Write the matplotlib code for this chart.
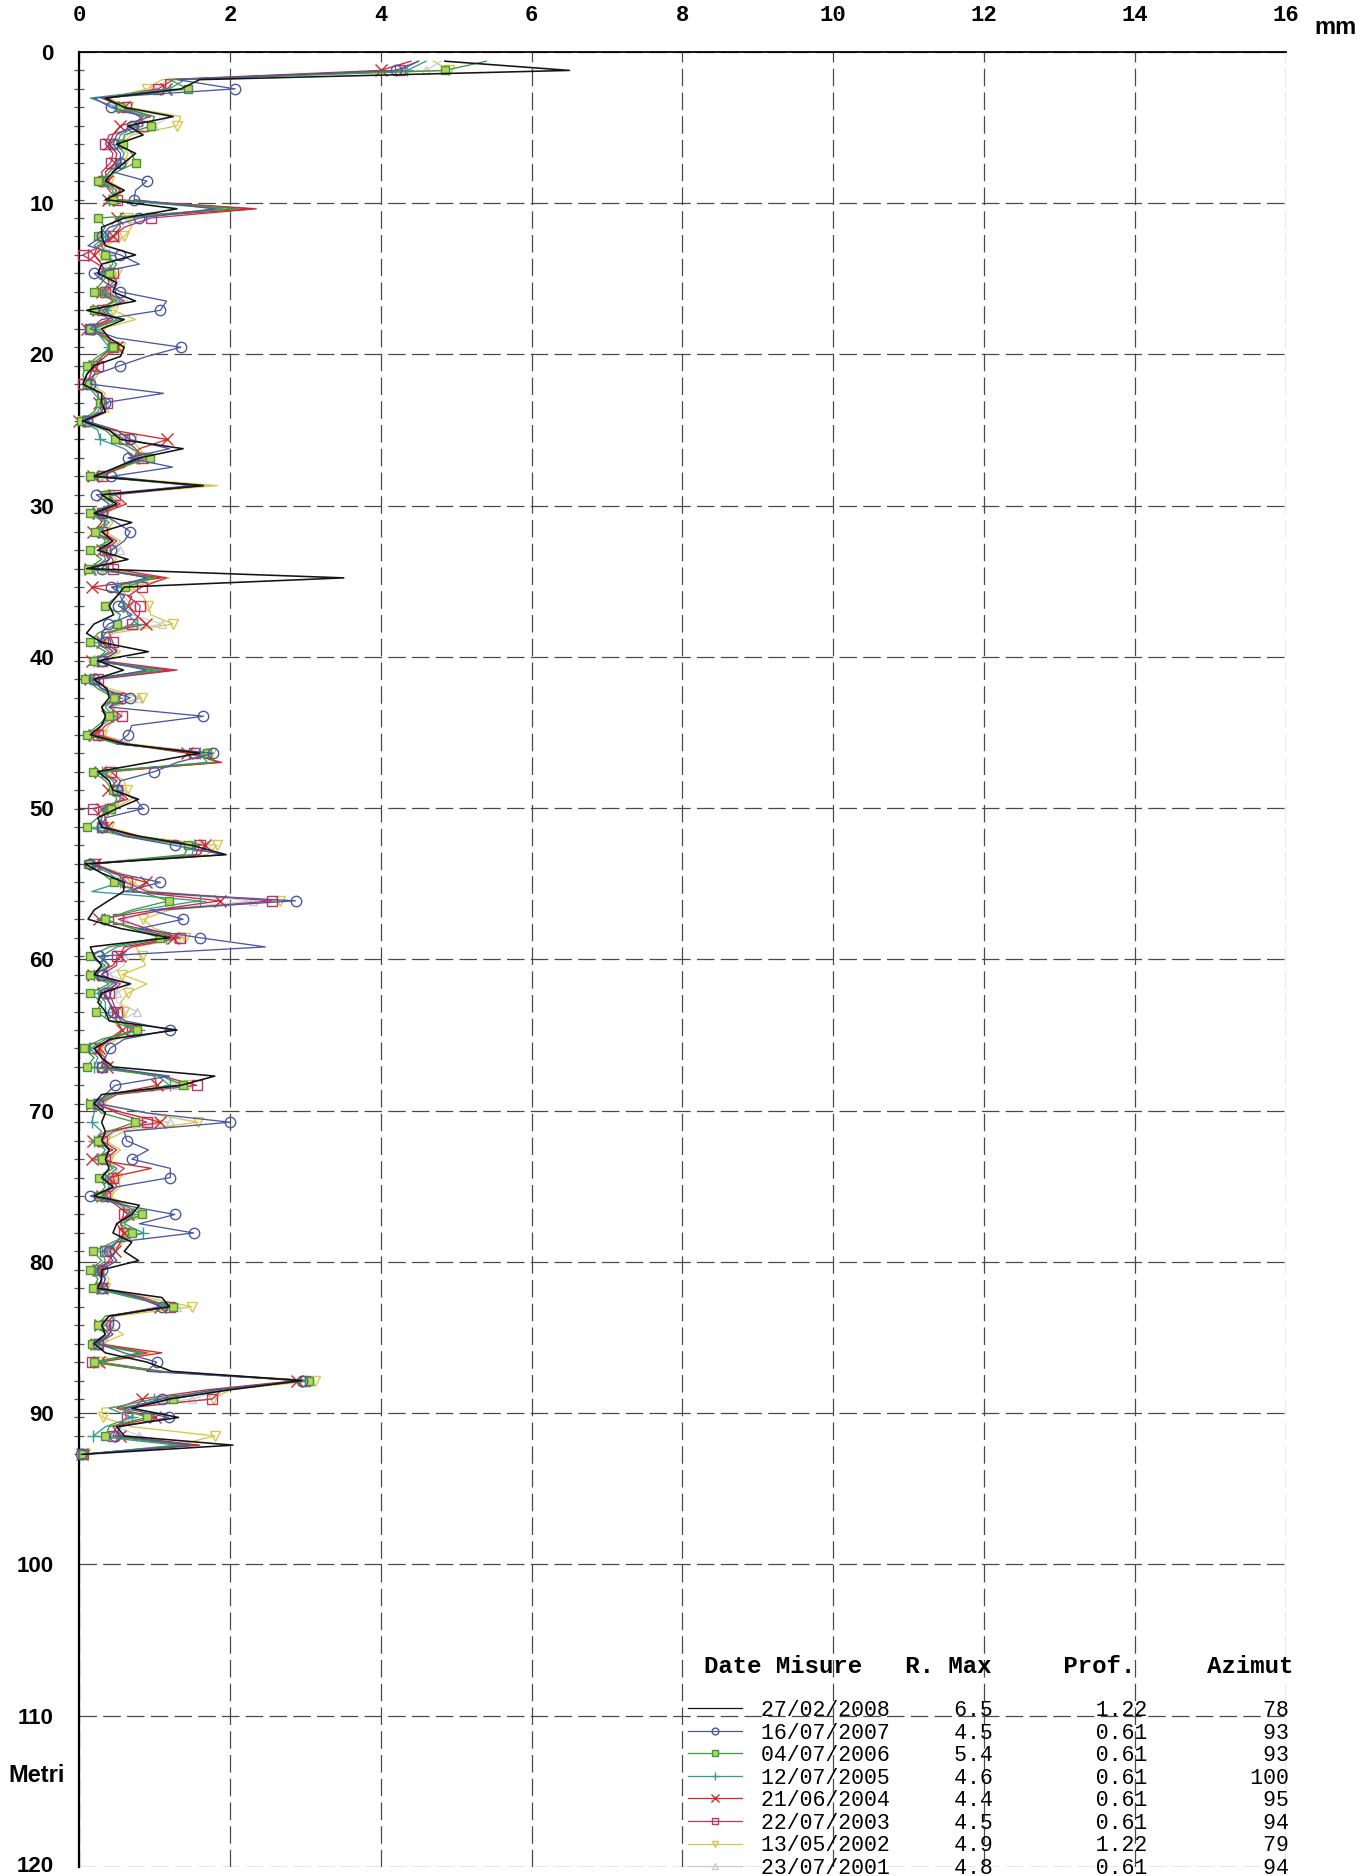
import numpy as np
import matplotlib
matplotlib.use("Agg")
import matplotlib.pyplot as plt
from matplotlib.lines import Line2D
from matplotlib.font_manager import FontProperties

# tabella misure
date_misure = ["27/02/2008", "16/07/2007", "04/07/2006", "12/07/2005",
               "21/06/2004", "22/07/2003", "13/05/2002", "23/07/2001"]
r_max = ["6.5", "4.5", "5.4", "4.6", "4.4", "4.5", "4.9", "4.8"]
prof = ["1.22", "0.61", "0.61", "0.61", "0.61", "0.61", "1.22", "0.61"]
azimut = ["78", "93", "93", "100", "95", "94", "79", "94"]

x_ticks = [0, 2, 4, 6, 8, 10, 12, 14, 16]
y_ticks = [0, 10, 20, 30, 40, 50, 60, 70, 80, 90, 100, 110, 120]

# letture della sonda ogni 0.61 m (marcatori ogni 1.22 m)
profondita = np.round(np.arange(1, 153) * 0.61, 2)

s2008 = [4.85, 6.5, 1.6, 1.35, 0.35, 0.6, 1.25, 0.65, 0.85, 0.5,
         0.75, 0.6, 0.45, 0.35, 0.6, 0.35, 1.3, 0.6, 0.3, 0.3,
         0.35, 0.75, 0.3, 0.25, 0.5, 0.45, 0.75, 0.1, 0.6, 0.3,
         0.4, 0.6, 0.55, 0.2, 0.1, 0.05, 0.3, 0.3, 0.35, 0.05,
         0.4, 0.55, 1.38, 0.8, 0.5, 0.2, 1.65, 0.3, 0.5, 0.2,
         0.7, 0.3, 0.45, 0.25, 0.65, 0.1, 3.51, 0.6, 0.5, 0.4,
         0.46, 0.2, 0.1, 0.3, 0.92, 0.25, 0.59, 0.2, 0.37, 0.4,
         0.3, 0.35, 0.3, 0.15, 0.6, 1.6, 0.93, 0.25, 0.4, 0.45,
         0.79, 0.5, 0.25, 0.3, 0.8, 1.5, 1.95, 0.08, 0.3, 0.6,
         0.59, 0.39, 0.2, 0.12, 0.55, 1.2, 0.15, 0.2, 0.3, 0.2,
         0.68, 0.3, 0.25, 0.35, 0.4, 1.3, 0.41, 0.2, 0.3, 0.45,
         1.8, 1.35, 0.3, 0.2, 0.35, 0.3, 0.35, 0.3, 0.4, 0.35,
         0.4, 0.3, 0.45, 0.2, 0.8, 0.7, 0.5, 0.45, 0.7, 0.6,
         0.79, 0.3, 0.3, 0.25, 1.1, 1.2, 0.4, 0.3, 0.35, 0.2,
         0.35, 0.9, 1.23, 2.95, 2.0, 1.2, 0.7, 1.32, 0.5, 0.6,
         2.04, 0.05]
s2007 = [4.5, 4.2, 1.3, 2.07, 0.2, 0.42, 0.85, 0.7, 0.5, 0.45,
         0.55, 0.55, 0.45, 0.9, 0.75, 0.73, 1.8, 0.8, 0.4, 0.3,
         0.12, 0.55, 0.8, 0.2, 0.35, 0.55, 1.16, 1.08, 0.3, 0.15,
         0.5, 1.35, 0.9, 0.54, 0.2, 0.15, 1.12, 0.35, 0.3, 0.1,
         0.5, 0.67, 1.2, 0.65, 1.24, 0.43, 1.5, 0.23, 0.4, 0.3,
         0.5, 0.68, 0.6, 0.43, 0.4, 0.3, 0.9, 0.43, 0.6, 0.52,
         0.7, 0.39, 0.3, 0.35, 0.5, 0.3, 0.9, 0.2, 0.3, 0.68,
         0.4, 1.65, 0.7, 0.65, 0.5, 1.78, 1.3, 1.0, 0.55, 0.5,
         0.75, 0.85, 0.35, 0.3, 0.6, 1.27, 1.92, 0.15, 0.5, 1.08,
         0.6, 2.87, 0.94, 1.38, 0.8, 1.6, 2.47, 0.26, 0.4, 0.3,
         0.5, 0.35, 0.4, 0.45, 0.6, 1.21, 0.6, 0.41, 0.35, 0.3,
         1.2, 0.48, 0.35, 0.25, 0.9, 2.0, 0.6, 0.63, 0.92, 0.7,
         1.21, 1.21, 0.5, 0.15, 0.6, 1.27, 0.8, 1.52, 0.5, 0.4,
         0.5, 0.3, 0.35, 0.3, 0.8, 1.1, 0.45, 0.46, 0.4, 0.25,
         0.6, 1.03, 0.9, 2.95, 1.8, 1.1, 0.6, 1.19, 0.55, 0.48,
         1.5, 0.02]
s2006 = [5.4, 4.85, 1.2, 1.45, 0.38, 0.55, 1.0, 0.95, 0.6, 0.58,
         0.7, 0.75, 0.5, 0.25, 0.45, 0.45, 2.1, 0.25, 0.35, 0.25,
         0.3, 0.35, 0.5, 0.4, 0.3, 0.2, 0.5, 0.2, 0.55, 0.15,
         0.35, 0.45, 0.25, 0.1, 0.05, 0.1, 0.25, 0.28, 0.2, 0.02,
         0.35, 0.48, 0.7, 0.94, 0.55, 0.15, 1.55, 0.35, 0.45, 0.15,
         0.35, 0.21, 0.4, 0.15, 0.3, 0.12, 1.0, 0.61, 0.5, 0.35,
         0.55, 0.5, 0.25, 0.15, 0.35, 0.2, 1.0, 0.08, 0.25, 0.46,
         0.3, 0.4, 0.25, 0.1, 0.5, 1.7, 1.8, 0.19, 0.35, 0.45,
         0.5, 0.43, 0.25, 0.1, 0.6, 1.45, 1.4, 0.12, 0.3, 0.46,
         0.8, 1.19, 0.7, 0.35, 0.7, 1.07, 0.4, 0.15, 0.35, 0.15,
         0.4, 0.15, 0.3, 0.23, 0.4, 0.77, 0.3, 0.06, 0.2, 0.1,
         1.1, 1.38, 0.4, 0.15, 0.3, 0.74, 0.4, 0.25, 0.4, 0.3,
         0.45, 0.26, 0.35, 0.25, 0.6, 0.83, 0.55, 0.7, 0.45, 0.19,
         0.3, 0.15, 0.25, 0.19, 0.7, 1.25, 0.35, 0.25, 0.35, 0.17,
         0.8, 0.2, 1.0, 3.05, 1.9, 1.25, 0.55, 0.9, 0.4, 0.35,
         1.4, 0.05]
s2005 = [4.6, 4.35, 1.4, 1.2, 0.15, 0.5, 0.9, 0.75, 0.55, 0.5,
         0.6, 0.55, 0.4, 0.3, 0.5, 0.4, 1.9, 0.55, 0.5, 0.35,
         0.2, 0.4, 0.45, 0.3, 0.45, 0.3, 0.55, 0.35, 0.5, 0.2,
         0.3, 0.4, 0.3, 0.15, 0.1, 0.1, 0.2, 0.3, 0.25, 0.05,
         0.25, 0.28, 0.6, 0.75, 0.5, 0.25, 1.5, 0.4, 0.5, 0.2,
         0.4, 0.25, 0.35, 0.3, 0.35, 0.2, 0.95, 0.5, 0.55, 0.6,
         0.65, 0.77, 0.35, 0.25, 0.4, 0.2, 1.1, 0.15, 0.3, 0.5,
         0.35, 0.45, 0.3, 0.15, 0.55, 1.6, 1.7, 0.3, 0.45, 0.5,
         0.55, 0.35, 0.3, 0.25, 0.65, 1.52, 1.5, 0.15, 0.4, 0.55,
         0.17, 1.6, 0.8, 0.3, 0.75, 1.15, 0.5, 0.3, 0.4, 0.2,
         0.45, 0.25, 0.35, 0.35, 0.5, 0.8, 0.35, 0.15, 0.25, 0.2,
         1.05, 1.2, 0.45, 0.2, 0.2, 0.17, 0.3, 0.2, 0.35, 0.25,
         0.5, 0.35, 0.4, 0.3, 0.55, 0.7, 0.6, 0.85, 0.5, 0.3,
         0.35, 0.2, 0.3, 0.25, 0.75, 1.15, 0.4, 0.3, 0.4, 0.2,
         0.85, 0.25, 1.05, 3.0, 1.85, 1.0, 0.4, 0.7, 0.35, 0.19,
         1.3, 0.05]
s2004 = [4.4, 4.0, 1.15, 1.15, 0.3, 0.6, 0.95, 0.55, 0.45, 0.4,
         0.5, 0.48, 0.35, 0.37, 0.55, 0.38, 2.3, 0.5, 0.55, 0.45,
         0.25, 0.2, 0.3, 0.35, 0.4, 0.3, 0.45, 0.25, 0.4, 0.1,
         0.35, 0.5, 0.35, 0.2, 0.15, 0.1, 0.25, 0.26, 0.3, 0.0,
         0.45, 1.17, 0.8, 0.72, 0.6, 0.19, 1.65, 0.32, 0.55, 0.25,
         0.3, 0.19, 0.45, 0.3, 0.4, 0.15, 1.1, 0.17, 0.7, 0.65,
         0.75, 0.89, 0.3, 0.3, 0.45, 0.17, 1.2, 0.15, 0.3, 0.5,
         0.3, 0.37, 0.3, 0.2, 0.6, 1.43, 1.89, 0.28, 0.5, 0.39,
         0.6, 0.3, 0.35, 0.37, 0.7, 1.67, 1.6, 0.21, 0.45, 0.89,
         0.7, 1.87, 1.0, 0.26, 0.8, 1.25, 0.6, 0.54, 0.45, 0.19,
         0.5, 0.32, 0.4, 0.48, 0.5, 0.57, 0.4, 0.26, 0.3, 0.37,
         1.0, 1.03, 0.4, 0.17, 0.6, 1.08, 0.35, 0.19, 0.45, 0.17,
         0.96, 0.4, 0.45, 0.3, 0.5, 0.65, 0.5, 0.59, 0.55, 0.48,
         0.4, 0.25, 0.3, 0.3, 0.8, 1.08, 0.4, 0.28, 0.4, 0.23,
         1.1, 0.26, 1.1, 2.89, 1.7, 0.83, 0.5, 1.01, 0.45, 0.54,
         1.6, 0.04]
s2003 = [4.5, 4.25, 1.25, 1.05, 0.33, 0.62, 0.8, 0.85, 0.4, 0.35,
         0.45, 0.42, 0.3, 0.32, 0.4, 0.5, 2.35, 0.95, 0.6, 0.45,
         0.3, 0.05, 0.25, 0.45, 0.5, 0.35, 0.6, 0.3, 0.45, 0.15,
         0.4, 0.45, 0.3, 0.25, 0.2, 0.05, 0.3, 0.37, 0.35, 0.1,
         0.4, 0.6, 0.75, 0.85, 0.55, 0.3, 1.6, 0.48, 0.63, 0.3,
         0.35, 0.3, 0.5, 0.35, 0.45, 0.45, 1.16, 0.83, 0.65, 0.81,
         0.8, 0.7, 0.4, 0.45, 0.5, 0.3, 1.3, 0.25, 0.35, 0.55,
         0.4, 0.57, 0.35, 0.25, 0.65, 1.52, 1.85, 0.43, 0.55, 0.5,
         0.65, 0.19, 0.3, 0.3, 0.75, 1.6, 1.55, 0.2, 0.5, 0.63,
         0.9, 2.56, 1.1, 0.52, 0.9, 1.34, 0.7, 0.5, 0.5, 0.3,
         0.55, 0.4, 0.45, 0.5, 0.55, 0.7, 0.45, 0.2, 0.35, 0.3,
         1.1, 1.56, 0.5, 0.25, 0.5, 0.9, 0.45, 0.3, 0.5, 0.35,
         0.6, 0.45, 0.5, 0.35, 0.6, 0.59, 0.55, 0.6, 0.5, 0.35,
         0.45, 0.25, 0.35, 0.3, 0.85, 1.2, 0.45, 0.35, 0.45, 0.25,
         0.9, 0.17, 1.0, 3.0, 1.9, 1.76, 0.6, 0.63, 0.5, 0.45,
         1.5, 0.05]
s2002 = [4.7, 4.9, 1.1, 0.9, 0.4, 0.65, 1.35, 1.3, 0.7, 0.55,
         0.65, 0.6, 0.45, 0.4, 0.6, 0.45, 2.1, 0.65, 0.7, 0.6,
         0.35, 0.3, 0.4, 0.5, 0.45, 0.35, 0.5, 0.45, 0.75, 0.3,
         0.3, 0.55, 0.3, 0.2, 0.25, 0.15, 0.35, 0.3, 0.4, 0.05,
         0.5, 0.7, 0.8, 0.9, 0.6, 0.3, 1.83, 0.4, 0.6, 0.35,
         0.45, 0.35, 0.55, 0.4, 0.5, 0.3, 1.2, 0.7, 0.85, 0.92,
         0.95, 1.25, 0.45, 0.35, 0.55, 0.35, 1.25, 0.2, 0.4, 0.83,
         0.45, 0.5, 0.4, 0.3, 0.7, 1.75, 1.8, 0.4, 0.6, 0.63,
         0.7, 0.45, 0.35, 0.4, 0.8, 1.83, 1.7, 0.2, 0.55, 0.7,
         0.95, 2.67, 1.2, 0.85, 1.0, 1.4, 0.75, 0.83, 0.88, 0.57,
         0.9, 0.65, 0.55, 0.6, 0.6, 0.75, 0.5, 0.3, 0.3, 0.35,
         1.15, 1.45, 0.5, 0.3, 0.9, 1.58, 0.6, 0.35, 0.55, 0.4,
         0.5, 0.5, 0.55, 0.4, 0.65, 0.75, 0.6, 0.65, 0.6, 0.4,
         0.5, 0.3, 0.4, 0.35, 0.9, 1.5, 0.5, 0.4, 0.59, 0.3,
         0.95, 0.3, 1.1, 3.13, 2.0, 1.78, 0.3, 0.32, 0.7, 1.8,
         1.3, 0.08]
s2001 = [4.8, 4.6, 1.2, 1.0, 0.35, 0.5, 1.2, 1.0, 0.65, 0.5,
         0.6, 0.55, 0.4, 0.35, 0.5, 0.4, 2.0, 0.7, 0.45, 0.5,
         0.3, 0.45, 0.35, 0.4, 0.55, 0.4, 0.65, 0.35, 0.5, 0.25,
         0.35, 0.5, 0.35, 0.2, 0.15, 0.2, 0.3, 0.35, 0.3, 0.05,
         0.45, 0.6, 0.7, 0.8, 0.55, 0.25, 1.7, 0.35, 0.5, 0.3,
         0.4, 0.3, 0.4, 0.54, 0.4, 0.25, 1.0, 0.6, 0.6, 0.7,
         0.7, 1.1, 0.35, 0.3, 0.45, 0.3, 1.1, 0.2, 0.3, 0.8,
         0.4, 0.45, 0.35, 0.2, 0.6, 1.65, 1.75, 0.35, 0.5, 0.55,
         0.6, 0.4, 0.3, 0.3, 0.7, 1.7, 1.6, 0.15, 0.45, 0.6,
         0.8, 2.3, 1.0, 0.6, 0.85, 1.3, 0.65, 0.6, 0.6, 0.4,
         0.7, 0.5, 0.5, 0.77, 0.55, 0.7, 0.45, 0.25, 0.3, 0.3,
         1.1, 1.3, 0.45, 0.25, 0.6, 1.2, 0.5, 0.3, 0.5, 0.35,
         0.5, 0.4, 0.45, 0.3, 0.6, 0.7, 0.55, 0.6, 0.5, 0.35,
         0.4, 0.25, 0.35, 0.3, 0.8, 1.3, 0.45, 0.35, 0.45, 0.25,
         0.9, 0.25, 1.05, 3.05, 1.9, 1.5, 0.5, 0.7, 0.5, 0.8,
         1.4, 0.05]

serie = [s2008, s2007, s2006, s2005, s2004, s2003, s2002, s2001]

colori = ["#141414", "#4b58a6", "#3f9a3a", "#3a9a8c",
          "#d02a2a", "#c0336a", "#d6c84e", "#c4ccd4"]
marcatori = ["", "o", "s", "+", "x", "s", "v", "^"]
facce = ["none", "none", "#b9d35a", "none", "none", "none", "none", "none"]
dimensioni = [0, 7.5, 6, 9, 8.5, 7.5, 7.5, 6]
spessori = [1.15, 0.95, 0.95, 0.95, 0.95, 0.95, 0.95, 0.8]

fig = plt.figure(figsize=(13.62, 18.76), dpi=100)
ax = fig.add_axes([0.058, 0.0048, 0.8862, 0.9675])

for k in range(len(serie) - 1, -1, -1):
    ax.plot(serie[k], profondita, color=colori[k], lw=spessori[k],
            marker=marcatori[k] or None, ms=dimensioni[k], mfc=facce[k],
            mec=colori[k], mew=1.0, markevery=slice(1, None, 2),
            clip_on=False, zorder=3 + (len(serie) - k))

ax.set_xlim(0, 16)
ax.set_ylim(120, 0)
ax.set_xticks(x_ticks)
# l'ultima etichetta (120) va scritta a mano, sta sul bordo della figura
ax.set_yticks(y_ticks, [str(v) for v in y_ticks[:-1]] + [""])
ax.set_yticks(profondita[1::2], minor=True)
ax.xaxis.tick_top()
ax.tick_params(axis="x", which="major", length=0, pad=19)
ax.tick_params(axis="y", which="major", length=0, pad=18)
ax.tick_params(axis="y", which="minor", length=7, width=0.9,
               direction="inout", color="#555555")
for lab in ax.get_xticklabels():
    lab.set_fontfamily("Liberation Mono")
    lab.set_fontweight("bold")
    lab.set_fontsize(16)
for lab in ax.get_yticklabels():
    lab.set_fontfamily("Liberation Sans")
    lab.set_fontweight("bold")
    lab.set_fontsize(16)

fig.text(54 / 1362, 1 - 1872 / 1876, str(y_ticks[-1]), fontsize=16,
         fontweight="bold", family="Liberation Sans", ha="right", va="baseline")

ax.grid(True, which="major", linestyle=(0, (14, 5)), color="#4a4a4a", lw=0.9)
ax.spines["left"].set_linewidth(1.6)
ax.spines["top"].set_linewidth(1.3)
ax.spines["right"].set_visible(False)
ax.spines["bottom"].set_visible(False)

fig.text(1335 / 1362, 1 - 27 / 1876, "mm", fontsize=17, fontweight="bold",
         family="Liberation Sans", ha="center", va="center")
fig.text(37 / 1362, 1 - 1775 / 1876, "Metri", fontsize=17, fontweight="bold",
         family="Liberation Sans", ha="center", va="center")

# tabella / legenda
fig.text(704 / 1362, 1 - 1666 / 1876,
         "Date Misure   R. Max     Prof.     Azimut",
         fontsize=17.3, family="Liberation Mono", fontweight="bold",
         ha="left", va="center")

maniglie = []
etichette = []
for k in range(len(serie)):
    maniglie.append(Line2D([], [], color=colori[k], lw=0.9,
                           marker=marcatori[k] or None, ms=dimensioni[k] * 0.65,
                           mfc=facce[k], mec=colori[k]))
    etichette.append(f"{date_misure[k]}{r_max[k]:>8}{prof[k]:>12}{azimut[k]:>11}")

ax.legend(maniglie, etichette, loc="upper left",
          bbox_to_anchor=(688 / 1362, 1 - 1700 / 1876),
          bbox_transform=fig.transFigure, frameon=False,
          prop=FontProperties(family="Liberation Mono", size=15.5),
          handlelength=2.5, handletextpad=0.9, labelspacing=0.07,
          borderpad=0, borderaxespad=0, numpoints=1)

fig.savefig("out.png", dpi=100, facecolor="white")
